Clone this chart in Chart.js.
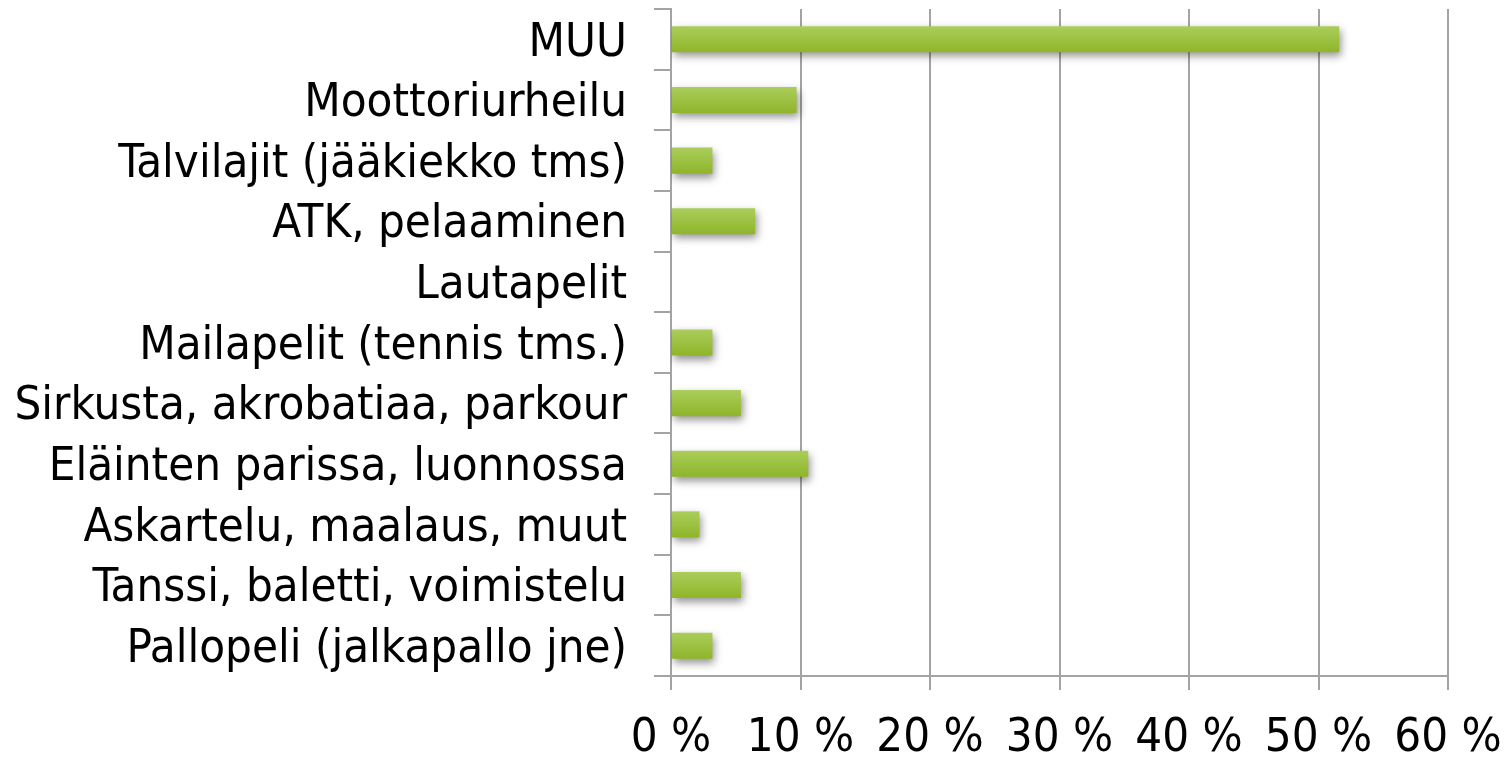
<!DOCTYPE html>
<html>
<head>
<meta charset="utf-8">
<script src="https://cdn.jsdelivr.net/npm/chart.js@4/dist/chart.umd.min.js"></script>
<style>
  html, body { margin: 0; padding: 0; background: #ffffff; }
  #wrap { width: 1509px; height: 760px; }
</style>
</head>
<body>
<div id="wrap"><canvas id="c" width="1509" height="760"></canvas></div>
<script>
const categories = [
  "MUU",
  "Moottoriurheilu",
  "Talvilajit (jääkiekko tms)",
  "ATK, pelaaminen",
  "Lautapelit",
  "Mailapelit (tennis tms.)",
  "Sirkusta, akrobatiaa, parkour",
  "Eläinten parissa, luonnossa",
  "Askartelu, maalaus, muut",
  "Tanssi, baletti, voimistelu",
  "Pallopeli (jalkapallo jne)"
];
const values = [51.6, 9.7, 3.2, 6.5, 0, 3.2, 5.4, 10.6, 2.2, 5.4, 3.2];
const xTicks = [0, 10, 20, 30, 40, 50, 60];

const FONT = "'DejaVu Sans Condensed', 'DejaVu Sans', sans-serif";
const GRID = '#a3a3a3';
const BAR_PCT = 0.43;

const shadowPlugin = {
  id: 'barShadow',
  beforeDatasetsDraw(chart) {
    const ctx = chart.ctx;
    ctx.save();
    ctx.shadowColor = 'rgba(0,0,0,0.42)';
    ctx.shadowBlur = 8;
    ctx.shadowOffsetX = 2;
    ctx.shadowOffsetY = 4;
  },
  afterDatasetsDraw(chart) {
    chart.ctx.restore();
  }
};

function barGradient(context) {
  const chart = context.chart;
  const ys = chart.scales && chart.scales.y;
  if (!ys || context.dataIndex === undefined) return '#9bbf3b';
  const cy = ys.getPixelForValue(context.dataIndex);
  const h = (ys.height / categories.length) * BAR_PCT;
  if (!isFinite(cy) || !isFinite(h)) return '#9bbf3b';
  const g = chart.ctx.createLinearGradient(0, cy - h / 2, 0, cy + h / 2);
  g.addColorStop(0, '#aacd5c');
  g.addColorStop(0.5, '#9dc142');
  g.addColorStop(1, '#8fb52a');
  return g;
}

new Chart(document.getElementById('c'), {
  type: 'bar',
  data: {
    labels: categories,
    datasets: [{
      data: values,
      backgroundColor: barGradient,
      borderWidth: 0,
      categoryPercentage: 1,
      barPercentage: BAR_PCT
    }]
  },
  options: {
    indexAxis: 'y',
    responsive: false,
    animation: false,
    devicePixelRatio: 1,
    layout: { padding: { top: 9, right: 61, left: 0, bottom: 0 } },
    plugins: { legend: { display: false }, tooltip: { enabled: false } },
    scales: {
      x: {
        min: 0,
        max: 60,
        afterBuildTicks(scale) { scale.ticks = xTicks.map(v => ({ value: v })); },
        afterFit(scale) {
          scale.height = 84;
          scale.paddingLeft = 0; scale.paddingRight = 0;
          scale.paddingTop = 0; scale.paddingBottom = 0;
        },
        grid: {
          color: GRID,
          lineWidth: 2,
          drawTicks: true,
          tickLength: 14,
          tickColor: GRID
        },
        border: { color: GRID, width: 2 },
        ticks: {
          padding: 21,
          color: '#000000',
          font: { family: FONT, size: 47 },
          maxRotation: 0,
          autoSkip: false,
          callback: (v) => v + ' %'
        }
      },
      y: {
        afterFit(scale) {
          scale.width = 671;
          scale.paddingTop = 0; scale.paddingBottom = 0;
          scale.paddingLeft = 0; scale.paddingRight = 0;
        },
        grid: {
          display: true,
          drawOnChartArea: false,
          drawTicks: true,
          tickLength: 17,
          color: GRID,
          tickColor: GRID,
          lineWidth: 2,
          offset: true
        },
        border: { color: GRID, width: 2 },
        ticks: {
          padding: 27,
          labelOffset: 4,
          color: '#000000',
          font: { family: FONT, size: 47 },
          autoSkip: false
        }
      }
    }
  },
  plugins: [shadowPlugin]
});
</script>
</body>
</html>
